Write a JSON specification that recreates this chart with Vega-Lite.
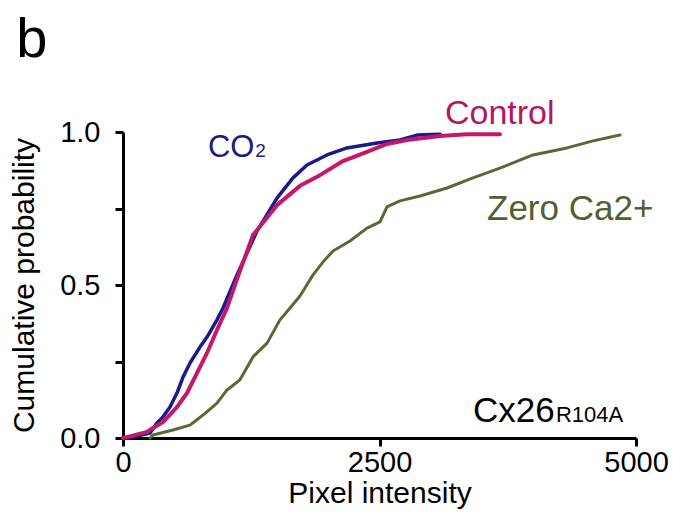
{
  "$schema": "https://vega.github.io/schema/vega-lite/v6.json",
  "width": 513,
  "height": 306,
  "autosize": {"type": "none"},
  "padding": {"left": 123, "top": 132, "right": 37, "bottom": 76},
  "config": {
    "view": {"stroke": null},
    "font": "Liberation Sans",
    "axis": {
      "domainColor": "black",
      "domainWidth": 3,
      "tickColor": "black",
      "tickWidth": 3,
      "tickSize": 8,
      "labelColor": "black",
      "titleColor": "black",
      "labelFont": "Liberation Sans",
      "titleFont": "Liberation Sans",
      "labelFontSize": 29,
      "titleFontSize": 30,
      "titleFontWeight": "normal",
      "grid": false,
      "labelFlush": false
    }
  },
  "datasets": {
    "curves": [
      {"series": "Zero Ca2+", "intensity": 263, "p": 0},
      {"series": "Zero Ca2+", "intensity": 292, "p": 0.01},
      {"series": "Zero Ca2+", "intensity": 487, "p": 0.026},
      {"series": "Zero Ca2+", "intensity": 653, "p": 0.042},
      {"series": "Zero Ca2+", "intensity": 780, "p": 0.075},
      {"series": "Zero Ca2+", "intensity": 916, "p": 0.114},
      {"series": "Zero Ca2+", "intensity": 1014, "p": 0.157},
      {"series": "Zero Ca2+", "intensity": 1140, "p": 0.19},
      {"series": "Zero Ca2+", "intensity": 1267, "p": 0.265},
      {"series": "Zero Ca2+", "intensity": 1404, "p": 0.31},
      {"series": "Zero Ca2+", "intensity": 1530, "p": 0.386},
      {"series": "Zero Ca2+", "intensity": 1628, "p": 0.425},
      {"series": "Zero Ca2+", "intensity": 1725, "p": 0.464},
      {"series": "Zero Ca2+", "intensity": 1852, "p": 0.533},
      {"series": "Zero Ca2+", "intensity": 1949, "p": 0.575},
      {"series": "Zero Ca2+", "intensity": 2047, "p": 0.611},
      {"series": "Zero Ca2+", "intensity": 2212, "p": 0.644},
      {"series": "Zero Ca2+", "intensity": 2378, "p": 0.686},
      {"series": "Zero Ca2+", "intensity": 2505, "p": 0.706},
      {"series": "Zero Ca2+", "intensity": 2573, "p": 0.755},
      {"series": "Zero Ca2+", "intensity": 2700, "p": 0.775},
      {"series": "Zero Ca2+", "intensity": 2895, "p": 0.791},
      {"series": "Zero Ca2+", "intensity": 3158, "p": 0.817},
      {"series": "Zero Ca2+", "intensity": 3411, "p": 0.85},
      {"series": "Zero Ca2+", "intensity": 3674, "p": 0.882},
      {"series": "Zero Ca2+", "intensity": 3996, "p": 0.925},
      {"series": "Zero Ca2+", "intensity": 4327, "p": 0.948},
      {"series": "Zero Ca2+", "intensity": 4581, "p": 0.971},
      {"series": "Zero Ca2+", "intensity": 4844, "p": 0.99},
      {"series": "CO2", "intensity": 0, "p": 0},
      {"series": "CO2", "intensity": 97, "p": 0.003},
      {"series": "CO2", "intensity": 263, "p": 0.016},
      {"series": "CO2", "intensity": 331, "p": 0.049},
      {"series": "CO2", "intensity": 390, "p": 0.069},
      {"series": "CO2", "intensity": 458, "p": 0.101},
      {"series": "CO2", "intensity": 526, "p": 0.147},
      {"series": "CO2", "intensity": 585, "p": 0.199},
      {"series": "CO2", "intensity": 653, "p": 0.245},
      {"series": "CO2", "intensity": 750, "p": 0.297},
      {"series": "CO2", "intensity": 819, "p": 0.33},
      {"series": "CO2", "intensity": 916, "p": 0.386},
      {"series": "CO2", "intensity": 975, "p": 0.425},
      {"series": "CO2", "intensity": 1111, "p": 0.533},
      {"series": "CO2", "intensity": 1306, "p": 0.676},
      {"series": "CO2", "intensity": 1501, "p": 0.784},
      {"series": "CO2", "intensity": 1657, "p": 0.85},
      {"series": "CO2", "intensity": 1793, "p": 0.892},
      {"series": "CO2", "intensity": 1988, "p": 0.925},
      {"series": "CO2", "intensity": 2183, "p": 0.948},
      {"series": "CO2", "intensity": 2476, "p": 0.964},
      {"series": "CO2", "intensity": 2700, "p": 0.974},
      {"series": "CO2", "intensity": 2866, "p": 0.99},
      {"series": "CO2", "intensity": 3090, "p": 0.993},
      {"series": "Control", "intensity": 0, "p": 0},
      {"series": "Control", "intensity": 39, "p": 0.003},
      {"series": "Control", "intensity": 234, "p": 0.02},
      {"series": "Control", "intensity": 292, "p": 0.033},
      {"series": "Control", "intensity": 390, "p": 0.052},
      {"series": "Control", "intensity": 526, "p": 0.101},
      {"series": "Control", "intensity": 624, "p": 0.147},
      {"series": "Control", "intensity": 721, "p": 0.212},
      {"series": "Control", "intensity": 819, "p": 0.278},
      {"series": "Control", "intensity": 916, "p": 0.353},
      {"series": "Control", "intensity": 1014, "p": 0.425},
      {"series": "Control", "intensity": 1140, "p": 0.546},
      {"series": "Control", "intensity": 1267, "p": 0.663},
      {"series": "Control", "intensity": 1501, "p": 0.761},
      {"series": "Control", "intensity": 1725, "p": 0.824},
      {"series": "Control", "intensity": 1920, "p": 0.859},
      {"series": "Control", "intensity": 2144, "p": 0.905},
      {"series": "Control", "intensity": 2378, "p": 0.935},
      {"series": "Control", "intensity": 2573, "p": 0.961},
      {"series": "Control", "intensity": 2768, "p": 0.974},
      {"series": "Control", "intensity": 3090, "p": 0.987},
      {"series": "Control", "intensity": 3353, "p": 0.993},
      {"series": "Control", "intensity": 3674, "p": 0.993}
    ]
  },
  "layer": [
    {
      "data": {"name": "curves"},
      "mark": {"type": "line", "strokeCap": "round", "strokeJoin": "round"},
      "encoding": {
        "x": {
          "field": "intensity",
          "type": "quantitative",
          "scale": {"domain": [0, 5000], "nice": false},
          "axis": {"values": [0, 2500, 5000], "format": "d", "title": "Pixel intensity", "labelPadding": 2, "titlePadding": 1}
        },
        "y": {
          "field": "p",
          "type": "quantitative",
          "scale": {"domain": [0, 1], "nice": false},
          "axis": {
            "values": [0, 0.25, 0.5, 0.75, 1],
            "labelExpr": "datum.value == 0.25 || datum.value == 0.75 ? '' : format(datum.value, '.1f')",
            "title": "Cumulative probability",
            "labelPadding": 15,
            "titlePadding": 20
          }
        },
        "color": {
          "field": "series",
          "type": "nominal",
          "scale": {"domain": ["Zero Ca2+", "CO2", "Control"], "range": ["#566b33", "#1a1a8c", "#c4196a"]},
          "legend": null
        },
        "strokeWidth": {
          "field": "series",
          "type": "nominal",
          "scale": {"domain": ["Zero Ca2+", "CO2", "Control"], "range": [3, 4, 4]},
          "legend": null
        }
      }
    },
    {
      "data": {"values": [{"x": -1040, "y": 1.245, "label": "b"}]},
      "mark": {"type": "text", "align": "left", "baseline": "alphabetic", "fontSize": 56, "color": "black"},
      "encoding": {"x": {"field": "x", "type": "quantitative"}, "y": {"field": "y", "type": "quantitative"}, "text": {"field": "label"}}
    },
    {
      "data": {"values": [{"x": 828, "y": 0.918, "label": "CO"}]},
      "mark": {"type": "text", "align": "left", "baseline": "alphabetic", "fontSize": 31, "color": "#1c1c80"},
      "encoding": {"x": {"field": "x", "type": "quantitative"}, "y": {"field": "y", "type": "quantitative"}, "text": {"field": "label"}}
    },
    {
      "data": {"values": [{"x": 1290, "y": 0.918, "label": "2"}]},
      "mark": {"type": "text", "align": "left", "baseline": "alphabetic", "fontSize": 19, "color": "#1c1c80"},
      "encoding": {"x": {"field": "x", "type": "quantitative"}, "y": {"field": "y", "type": "quantitative"}, "text": {"field": "label"}}
    },
    {
      "data": {"values": [{"x": 3138, "y": 1.026, "label": "Control"}]},
      "mark": {"type": "text", "align": "left", "baseline": "alphabetic", "fontSize": 34, "color": "#b5175e"},
      "encoding": {"x": {"field": "x", "type": "quantitative"}, "y": {"field": "y", "type": "quantitative"}, "text": {"field": "label"}}
    },
    {
      "data": {"values": [{"x": 3548, "y": 0.712, "label": "Zero Ca2+"}]},
      "mark": {"type": "text", "align": "left", "baseline": "alphabetic", "fontSize": 35, "color": "#4f6130"},
      "encoding": {"x": {"field": "x", "type": "quantitative"}, "y": {"field": "y", "type": "quantitative"}, "text": {"field": "label"}}
    },
    {
      "data": {"values": [{"x": 3411, "y": 0.052, "label": "Cx26"}]},
      "mark": {"type": "text", "align": "left", "baseline": "alphabetic", "fontSize": 35, "color": "black"},
      "encoding": {"x": {"field": "x", "type": "quantitative"}, "y": {"field": "y", "type": "quantitative"}, "text": {"field": "label"}}
    },
    {
      "data": {"values": [{"x": 4220, "y": 0.052, "label": "R104A"}]},
      "mark": {"type": "text", "align": "left", "baseline": "alphabetic", "fontSize": 22, "color": "black"},
      "encoding": {"x": {"field": "x", "type": "quantitative"}, "y": {"field": "y", "type": "quantitative"}, "text": {"field": "label"}}
    }
  ]
}
